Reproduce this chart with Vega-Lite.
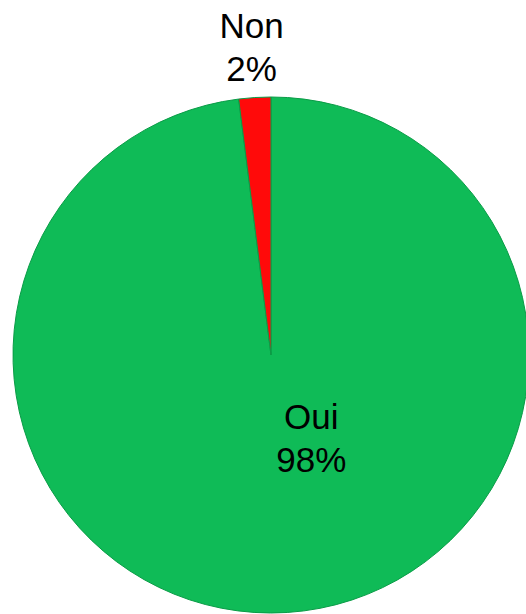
{
  "$schema": "https://vega.github.io/schema/vega-lite/v6.json",
  "width": 542,
  "height": 710,
  "padding": 0,
  "autosize": {"type": "none"},
  "background": "white",
  "view": {"stroke": null},
  "data": {"values": [
    {"cat": "Oui", "value": 98},
    {"cat": "Non", "value": 2}
  ]},
  "transform": [
    {"calculate": "datum.cat + '\\n' + datum.value + '%'", "as": "label"}
  ],
  "encoding": {
    "theta": {"field": "value", "type": "quantitative", "stack": true},
    "order": {"field": "cat", "sort": "descending"}
  },
  "layer": [
    {
      "mark": {"type": "arc", "outerRadius": 258, "stroke": "#0a9c47", "strokeWidth": 1},
      "encoding": {
        "color": {
          "field": "cat", "type": "nominal",
          "scale": {"domain": ["Oui", "Non"], "range": ["#0FBB57", "#FF0A0A"]},
          "legend": null
        }
      }
    },
    {
      "mark": {"type": "text", "radius": 308, "dy": -21, "font": "Liberation Sans", "fontSize": 35, "lineBreak": "\n", "lineHeight": 43, "baseline": "middle", "align": "center", "color": "black"},
      "encoding": {
        "text": {"condition": {"test": "datum.cat == 'Non'", "field": "label"}, "value": ""}
      }
    },
    {
      "mark": {"type": "text", "radius": 84, "dx": 35, "dy": -21, "font": "Liberation Sans", "fontSize": 35, "lineBreak": "\n", "lineHeight": 43, "baseline": "middle", "align": "center", "color": "black"},
      "encoding": {
        "text": {"condition": {"test": "datum.cat == 'Oui'", "field": "label"}, "value": ""}
      }
    }
  ]
}
